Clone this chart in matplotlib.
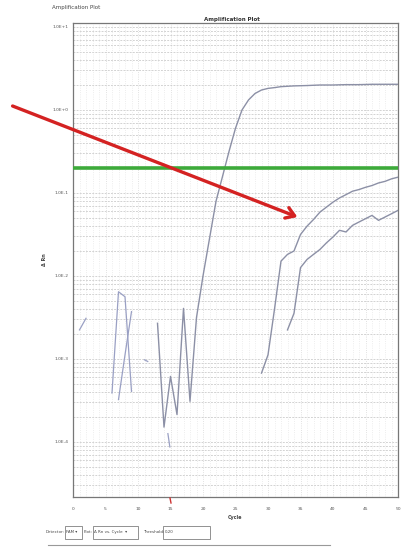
import numpy as np
import matplotlib
matplotlib.use("Agg")
import matplotlib.pyplot as plt
from matplotlib.patches import FancyArrowPatch, Rectangle
from matplotlib.lines import Line2D

# ---------------- data ----------------
cycles_a = [13, 14, 15, 16, 17, 18, 19, 20, 21, 22, 23, 24, 25, 26, 27, 28, 29, 30,
            31, 32, 33, 34, 36, 38, 40, 42, 44, 46, 48, 50]
rn_a = [2.69e-3, 1.51e-4, 6.17e-4, 2.14e-4, 4.07e-3, 3.09e-4, 3.16e-3, 1.0e-2,
        2.82e-2, 7.94e-2, 0.158, 0.316, 0.603, 1.00, 1.32, 1.58, 1.74, 1.82,
        1.86, 1.91, 1.93, 1.95, 1.97, 2.00, 2.00, 2.02, 2.02, 2.04, 2.04, 2.04]

cycles_b = [29, 30, 31, 32, 33, 34, 35, 36, 37, 38, 39, 40, 41, 42, 43, 44, 45, 46,
            47, 48, 49, 50]
rn_b = [6.76e-4, 1.12e-3, 3.98e-3, 1.51e-2, 1.82e-2, 2.00e-2, 3.16e-2, 3.98e-2,
        4.79e-2, 5.89e-2, 6.76e-2, 7.76e-2, 8.71e-2, 9.55e-2, 0.105, 0.110,
        0.117, 0.123, 0.132, 0.138, 0.148, 0.155]

cycles_c = [33, 34, 35, 36, 37, 38, 39, 40, 41, 42, 43, 44, 45, 46, 47, 48, 49, 50]
rn_c = [2.24e-3, 3.55e-3, 1.26e-2, 1.58e-2, 1.82e-2, 2.09e-2, 2.51e-2, 2.95e-2,
        3.55e-2, 3.39e-2, 4.07e-2, 4.47e-2, 4.90e-2, 5.37e-2, 4.68e-2, 5.13e-2,
        5.62e-2, 6.17e-2]

noise_cycles = [[1, 2], [6, 7, 8, 9], [7, 8, 9], [11, 11.5], [14.6, 14.9]]
noise_rn = [[2.24e-3, 3.09e-3],
            [3.89e-4, 6.46e-3, 5.62e-3, 4.07e-4],
            [3.24e-4, 1.12e-3, 3.72e-3],
            [9.77e-4, 9.33e-4],
            [1.26e-4, 8.71e-5]]

threshold = 0.20
x_ticks = [0, 5, 10, 15, 20, 25, 30, 35, 40, 45, 50]
y_ticks = [1e1, 1e0, 1e-1, 1e-2, 1e-3, 1e-4]
y_labels = ["1.0E+1", "1.0E+0", "1.0E-1", "1.0E-2", "1.0E-3", "1.0E-4"]

# ---------------- figure ----------------
W, H = 403, 548
fig = plt.figure(figsize=(W / 100, H / 100), dpi=100)
fig.patch.set_facecolor("white")

L, R, T, B = 73, 398, 23, 497
ax = fig.add_axes([L / W, (H - B) / H, (R - L) / W, (B - T) / H])
ax.set_yscale("log")
ax.set_xlim(0, 50)
ax.set_ylim(10 ** -4.663, 10 ** 1.048)

# grid
for d in range(-5, 2):
    for m in range(1, 10):
        v = m * 10.0 ** d
        if 10 ** -4.663 < v < 10 ** 1.048:
            ax.axhline(v, color="#b9b9b9", lw=0.45, ls=(0, (3, 2)), zorder=0)
for c in range(1, 50):
    ax.axvline(c, color="#dcdcdc" if c % 5 else "#c4c4c4", lw=0.4,
               ls=(0, (1.5, 2.5)), zorder=0)

curve_col = "#8c90a6"
ax.plot(cycles_a, rn_a, color=curve_col, lw=1.0, zorder=3)
ax.plot(cycles_b, rn_b, color=curve_col, lw=1.0, zorder=3)
ax.plot(cycles_c, rn_c, color=curve_col, lw=1.0, zorder=3)
for cx, ry in zip(noise_cycles, noise_rn):
    ax.plot(cx, ry, color="#9aa0c4", lw=0.9, zorder=3)

ax.axhline(threshold, color="#3daa3a", lw=2.6, zorder=4)

ax.set_xticks(x_ticks)
ax.set_xticklabels([str(v) for v in x_ticks])
ax.set_yticks(y_ticks)
ax.set_yticklabels(y_labels)
ax.yaxis.set_minor_locator(matplotlib.ticker.NullLocator())
ax.tick_params(axis="both", labelsize=3.2, colors="#555555", length=0, pad=7)
ax.tick_params(axis="y", pad=3)
for s in ax.spines.values():
    s.set_color("#777777")
    s.set_linewidth(0.9)
ax.set_xlabel("Cycle", fontsize=3.5, color="#444444", labelpad=3, fontweight="bold")
ax.set_ylabel("Δ Rn", fontsize=3.5, color="#444444", labelpad=4, fontweight="bold")

# titles
fig.text(52 / W, 1 - 8 / H, "Amplification Plot", fontsize=4, color="#444444",
         va="center", ha="left")
fig.text(232 / W, 1 - 19 / H, "Amplification Plot", fontsize=4, color="#333333",
         va="center", ha="center", fontweight="bold")

# bottom controls
yb = 1 - 532 / H
fs = 2.9
def box(x0, x1):
    fig.add_artist(Rectangle((x0 / W, 1 - 539 / H), (x1 - x0) / W, 13 / H,
                             transform=fig.transFigure, fill=False, lw=0.5, ec="#666666"))
fig.text(46 / W, yb, "Detector:", fontsize=fs, color="#444444", va="center")
box(65, 82)
fig.text(66.5 / W, yb, "FAM ▾", fontsize=fs, color="#444444", va="center")
fig.text(84 / W, yb, "Plot:", fontsize=fs, color="#444444", va="center")
box(93, 138)
fig.text(94.5 / W, yb, "Δ Rn vs. Cycle  ▾", fontsize=fs, color="#444444", va="center")
fig.text(143 / W, yb, "Threshold:", fontsize=fs, color="#444444", va="center")
box(163, 210)
fig.text(165 / W, yb, "0.20", fontsize=fs, color="#444444", va="center")
fig.add_artist(Line2D([48 / W, 330 / W], [1 - 545 / H, 1 - 545 / H],
                      transform=fig.transFigure, color="#999999", lw=0.8))

# small red mark below the axis
fig.add_artist(Line2D([170 / W, 171 / W], [1 - 498 / H, 1 - 503 / H],
                      transform=fig.transFigure, color="#cc3333", lw=1.0))

# hand-drawn red arrow
arrow = FancyArrowPatch((10, H - 105), (300, H - 218), transform=None,
                        arrowstyle="->,head_length=6,head_width=4",
                        color="#d42222", lw=2.4, zorder=10)
fig.add_artist(arrow)

fig.savefig("out.png", dpi=100, facecolor="white")
